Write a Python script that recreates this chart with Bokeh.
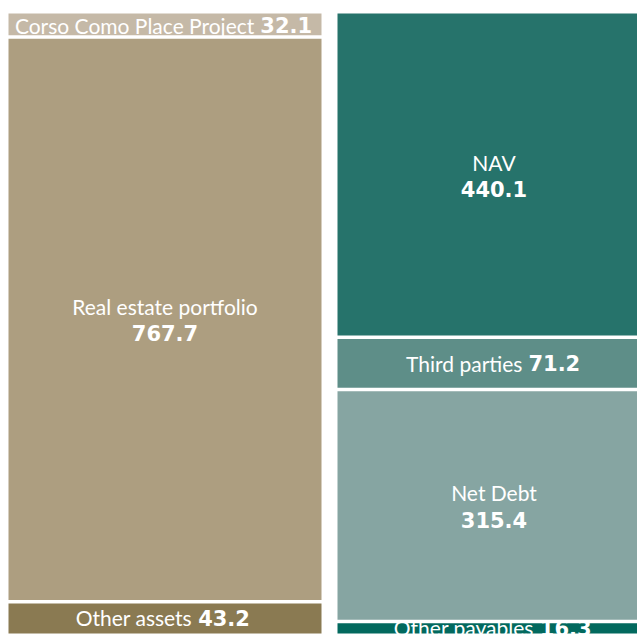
import numpy as np
from bokeh.plotting import figure
from bokeh.models import Range1d, ColumnDataSource
from bokeh.core.properties import value
from bokeh.embed import file_html
from bokeh.resources import INLINE

# ---- data ----
asset_labels = ["Corso Como Place Project", "Real estate portfolio", "Other assets"]
asset_values = [32.1, 767.7, 43.2]
asset_colors = ["#c5b9a7", "#ad9e80", "#8a7a52"]

liab_labels = ["NAV", "Third parties", "Net Debt", "Other payables"]
liab_values = [440.1, 71.2, 315.4, 16.3]
liab_colors = ["#26736b", "#5e8e88", "#86a5a2", "#02695e"]

# ---- layout constants ----
W, H = 637, 642
TOP_PX = 13           # where the stacks start
BOTTOM_PX = 633       # where the stacks end
LEFT_PX = 8           # left edge of first column
COL_PX = 313          # column width in px
PITCH_PX = 329        # distance between column centres in px
LABEL_FS = 21
VALUE_FS = 21
BIG_MIN = 200         # blocks at least this big get two-line labels

total = sum(asset_values)
PX_PER_UNIT = (BOTTOM_PX - TOP_PX) / total
GAP = 3.5 / PX_PER_UNIT
COL_W = COL_PX / PITCH_PX
x0 = -COL_W / 2 - LEFT_PX / PITCH_PX

LATO = {' ': .25, 'a': .49, 'b': .56, 'c': .46, 'd': .56, 'e': .52, 'f': .33, 'g': .51,
        'h': .56, 'i': .24, 'j': .23, 'l': .24, 'm': .83, 'n': .56, 'o': .56, 'p': .56,
        'r': .36, 's': .40, 't': .34, 'y': .50, 'v': .50, 'C': .67, 'O': .76, 'P': .58,
        'T': .58, 'R': .61, 'N': .76, 'A': .68, 'V': .68, 'D': .75}
DJB = {d: .696 for d in "0123456789"}
DJB['.'] = .381


def text_w(s, table, fs):
    return sum(table.get(ch, .55) for ch in s) * fs


p = figure(width=W, height=H, output_backend="svg", toolbar_location=None,
           x_axis_type=None, y_axis_type=None,
           x_range=Range1d(x0, x0 + W / PITCH_PX),
           y_range=Range1d((H - TOP_PX) / PX_PER_UNIT, -TOP_PX / PX_PER_UNIT),
           min_border=0, border_fill_color="white", background_fill_color="white")
p.outline_line_color = None
p.grid.visible = False

for col, (labels, vals, colors) in enumerate([(asset_labels, asset_values, asset_colors),
                                               (liab_labels, liab_values, liab_colors)]):
    vals = np.array(vals)
    starts = np.concatenate([[0], np.cumsum(vals)[:-1]])
    ends = starts + vals
    n = len(vals)
    tops = [s + (GAP / 2 if i > 0 else 0) for i, s in enumerate(starts)]
    bots = [e - (GAP / 2 if i < n - 1 else 0) for i, e in enumerate(ends)]
    src = ColumnDataSource(dict(left=[col - COL_W / 2] * n, right=[col + COL_W / 2] * n,
                                top=tops, bottom=bots, color=colors))
    p.quad(left="left", right="right", top="top", bottom="bottom", fill_color="color",
           line_color=None, source=src)

    for lab, v, s, e in zip(labels, vals, starts, ends):
        c = (s + e) / 2
        vs = f"{v:.1f}"
        if v >= BIG_MIN:
            p.text(x=[col], y=[c], text=[lab], text_align="center", text_baseline="middle",
                   y_offset=-13, text_color="white", text_font=value("Lato"),
                   text_font_size=f"{LABEL_FS}px")
            p.text(x=[col], y=[c], text=[vs], text_align="center", text_baseline="middle",
                   y_offset=14, text_color="white", text_font=value("DejaVu Sans"),
                   text_font_style="bold", text_font_size=f"{VALUE_FS}px")
        else:
            wl = text_w(lab, LATO, LABEL_FS)
            wv = text_w(vs, DJB, VALUE_FS)
            sp = 6
            split = (wl - wv - sp) / 2  # px offset from centre
            p.text(x=[col], y=[c], text=[lab], text_align="right", text_baseline="middle",
                   x_offset=split, text_color="white", text_font=value("Lato"),
                   text_font_size=f"{LABEL_FS}px")
            p.text(x=[col], y=[c], text=[vs], text_align="left", text_baseline="middle",
                   x_offset=split + sp, text_color="white", text_font=value("DejaVu Sans"),
                   text_font_style="bold", text_font_size=f"{VALUE_FS}px")

open("out.html", "w").write(file_html(p, INLINE))
